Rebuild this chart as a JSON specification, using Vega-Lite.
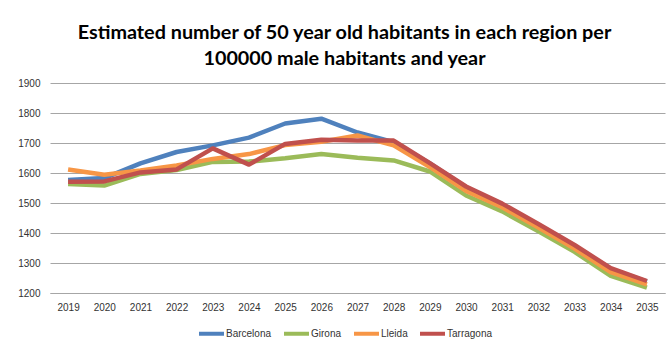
{
  "$schema": "https://vega.github.io/schema/vega-lite/v6.json",
  "width": 615,
  "height": 210,
  "autosize": "none",
  "padding": {"left": 50, "top": 83, "right": 2, "bottom": 52},
  "background": "white",
  "title": {
    "text": ["Estimated number of 50 year old habitants in each region per", "100000 male habitants and year"],
    "font": "Lato",
    "fontSize": 19.8,
    "fontWeight": "bold",
    "color": "#000000",
    "lineHeight": 26,
    "anchor": "middle",
    "dx": -13,
    "offset": 9
  },
  "data": {
    "values": [
      {"year": "2019", "region": "Barcelona", "value": 1577},
      {"year": "2020", "region": "Barcelona", "value": 1583},
      {"year": "2021", "region": "Barcelona", "value": 1632},
      {"year": "2022", "region": "Barcelona", "value": 1670},
      {"year": "2023", "region": "Barcelona", "value": 1692},
      {"year": "2024", "region": "Barcelona", "value": 1718},
      {"year": "2025", "region": "Barcelona", "value": 1765},
      {"year": "2026", "region": "Barcelona", "value": 1781},
      {"year": "2027", "region": "Barcelona", "value": 1735},
      {"year": "2028", "region": "Barcelona", "value": 1703},
      {"year": "2029", "region": "Barcelona", "value": 1632},
      {"year": "2030", "region": "Barcelona", "value": 1552},
      {"year": "2031", "region": "Barcelona", "value": 1495},
      {"year": "2032", "region": "Barcelona", "value": 1427},
      {"year": "2033", "region": "Barcelona", "value": 1356},
      {"year": "2034", "region": "Barcelona", "value": 1280},
      {"year": "2035", "region": "Barcelona", "value": 1238},
      {"year": "2019", "region": "Girona", "value": 1563},
      {"year": "2020", "region": "Girona", "value": 1558},
      {"year": "2021", "region": "Girona", "value": 1597},
      {"year": "2022", "region": "Girona", "value": 1610},
      {"year": "2023", "region": "Girona", "value": 1637},
      {"year": "2024", "region": "Girona", "value": 1638},
      {"year": "2025", "region": "Girona", "value": 1649},
      {"year": "2026", "region": "Girona", "value": 1663},
      {"year": "2027", "region": "Girona", "value": 1651},
      {"year": "2028", "region": "Girona", "value": 1642},
      {"year": "2029", "region": "Girona", "value": 1605},
      {"year": "2030", "region": "Girona", "value": 1525},
      {"year": "2031", "region": "Girona", "value": 1472},
      {"year": "2032", "region": "Girona", "value": 1406},
      {"year": "2033", "region": "Girona", "value": 1337},
      {"year": "2034", "region": "Girona", "value": 1257},
      {"year": "2035", "region": "Girona", "value": 1218},
      {"year": "2019", "region": "Lleida", "value": 1612},
      {"year": "2020", "region": "Lleida", "value": 1594},
      {"year": "2021", "region": "Lleida", "value": 1608},
      {"year": "2022", "region": "Lleida", "value": 1625},
      {"year": "2023", "region": "Lleida", "value": 1647},
      {"year": "2024", "region": "Lleida", "value": 1663},
      {"year": "2025", "region": "Lleida", "value": 1693},
      {"year": "2026", "region": "Lleida", "value": 1704},
      {"year": "2027", "region": "Lleida", "value": 1725},
      {"year": "2028", "region": "Lleida", "value": 1692},
      {"year": "2029", "region": "Lleida", "value": 1620},
      {"year": "2030", "region": "Lleida", "value": 1540},
      {"year": "2031", "region": "Lleida", "value": 1486},
      {"year": "2032", "region": "Lleida", "value": 1418},
      {"year": "2033", "region": "Lleida", "value": 1348},
      {"year": "2034", "region": "Lleida", "value": 1270},
      {"year": "2035", "region": "Lleida", "value": 1229},
      {"year": "2019", "region": "Tarragona", "value": 1571},
      {"year": "2020", "region": "Tarragona", "value": 1572},
      {"year": "2021", "region": "Tarragona", "value": 1602},
      {"year": "2022", "region": "Tarragona", "value": 1612},
      {"year": "2023", "region": "Tarragona", "value": 1682},
      {"year": "2024", "region": "Tarragona", "value": 1628},
      {"year": "2025", "region": "Tarragona", "value": 1697},
      {"year": "2026", "region": "Tarragona", "value": 1711},
      {"year": "2027", "region": "Tarragona", "value": 1708},
      {"year": "2028", "region": "Tarragona", "value": 1708},
      {"year": "2029", "region": "Tarragona", "value": 1633},
      {"year": "2030", "region": "Tarragona", "value": 1555},
      {"year": "2031", "region": "Tarragona", "value": 1498},
      {"year": "2032", "region": "Tarragona", "value": 1430},
      {"year": "2033", "region": "Tarragona", "value": 1360},
      {"year": "2034", "region": "Tarragona", "value": 1283},
      {"year": "2035", "region": "Tarragona", "value": 1240}
    ]
  },
  "mark": {"type": "line", "strokeWidth": 4.5, "strokeJoin": "round", "strokeCap": "butt"},
  "encoding": {
    "x": {
      "field": "year",
      "type": "ordinal",
      "scale": {"type": "point", "padding": 0.5},
      "axis": {
        "title": null,
        "labelAngle": 0,
        "labelFont": "Liberation Sans",
        "labelFontSize": 10,
        "labelColor": "#333333",
        "labelPadding": 9,
        "ticks": false,
        "domain": true,
        "domainColor": "#a6a6a6",
        "grid": false
      }
    },
    "y": {
      "field": "value",
      "type": "quantitative",
      "scale": {"domain": [1200, 1900], "nice": false, "zero": false},
      "axis": {
        "title": null,
        "values": [1200, 1300, 1400, 1500, 1600, 1700, 1800, 1900],
        "format": "d",
        "labelFont": "Liberation Sans",
        "labelFontSize": 10,
        "labelColor": "#333333",
        "labelPadding": 10,
        "ticks": false,
        "domain": false,
        "grid": true,
        "gridColor": "#a6a6a6",
        "gridWidth": 1
      }
    },
    "color": {
      "field": "region",
      "type": "nominal",
      "scale": {
        "domain": ["Barcelona", "Girona", "Lleida", "Tarragona"],
        "range": ["#4F81BD", "#9BBB59", "#F79646", "#C0504D"]
      },
      "legend": {
        "title": null,
        "orient": "none",
        "direction": "horizontal",
        "legendX": 147,
        "legendY": 236,
        "symbolType": "stroke",
        "symbolSize": 625,
        "symbolStrokeWidth": 4,
        "symbolOffset": 0,
        "labelOffset": 0,
        "columnPadding": 4,
        "labelFont": "Liberation Sans",
        "labelFontSize": 10,
        "labelColor": "#333333"
      }
    },
    "order": {"field": "region"}
  },
  "config": {"view": {"stroke": null}}
}
